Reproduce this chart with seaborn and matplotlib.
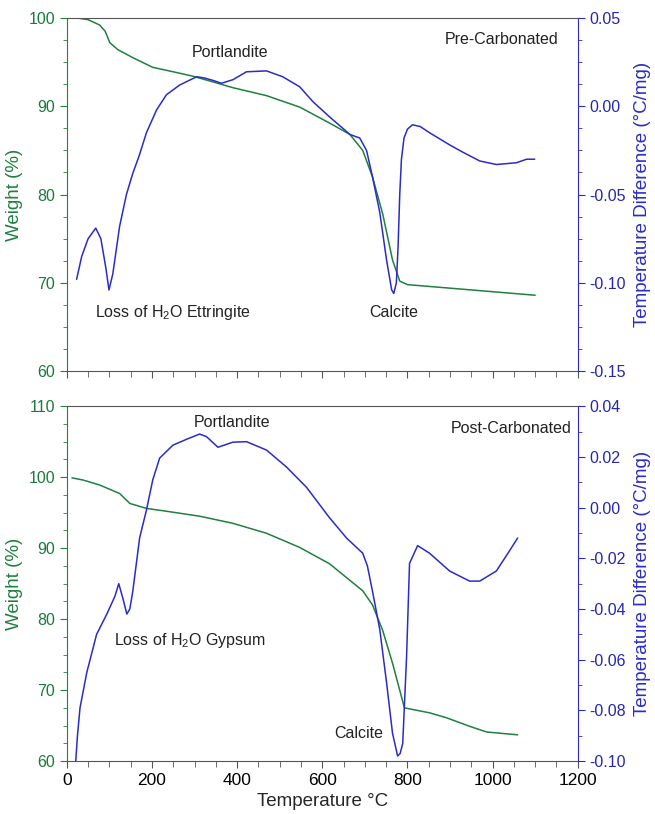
import matplotlib
matplotlib.use("Agg")
import matplotlib.pyplot as plt
import seaborn as sns
from matplotlib.ticker import MultipleLocator, FuncFormatter

# TGA / DTA readings, pre-carbonated sample
pre_temp_w = [23, 50, 77, 90, 101, 120, 155, 202, 250, 296, 340, 390, 469, 547,
              617, 665, 695, 718, 742, 765, 782, 800, 850, 950, 1050, 1100]
pre_weight = [100.0, 99.8, 99.2, 98.5, 97.2, 96.4, 95.5, 94.4, 93.9, 93.4, 92.8, 92.1, 91.2, 89.9,
              88.1, 86.8, 85.0, 82.0, 77.8, 72.6, 70.2, 69.8, 69.6, 69.2, 68.8, 68.6]
pre_temp_d = [23, 35, 50, 68, 80, 92, 99, 108, 124, 140, 155, 170, 187, 211, 234, 265,
              305, 323, 345, 363, 390, 422, 469, 507, 547, 578, 617, 665, 688, 704,
              718, 735, 751, 763, 768, 774, 778, 782, 786, 792, 800, 812, 830, 852,
              900, 930, 970, 1009, 1056, 1080, 1099]
pre_dta = [-0.098, -0.085, -0.075, -0.069, -0.075, -0.092, -0.104, -0.095, -0.068, -0.050,
           -0.038, -0.028, -0.015, -0.002, 0.0065, 0.012, 0.0167, 0.016, 0.0145, 0.013,
           0.015, 0.0195, 0.020, 0.0167, 0.011, 0.0026, -0.006, -0.016, -0.018, -0.025,
           -0.040, -0.060, -0.087, -0.104, -0.106, -0.100, -0.080, -0.050, -0.030, -0.018,
           -0.013, -0.0105, -0.0115, -0.015, -0.022, -0.026, -0.031, -0.033, -0.032,
           -0.030, -0.030]

# post-carbonated sample
post_temp_w = [12, 38, 77, 124, 148, 187, 234, 312, 390, 469, 547, 617, 695, 718, 742,
               765, 793, 852, 892, 946, 986, 1059]
post_weight = [99.9, 99.6, 98.9, 97.7, 96.3, 95.6, 95.2, 94.5, 93.5, 92.1, 90.1, 87.8,
               84.0, 82.0, 78.4, 73.8, 67.5, 66.8, 66.1, 64.9, 64.1, 63.7]
post_temp_d = [21, 25, 31, 47, 70, 94, 113, 122, 132, 141, 148, 155, 171, 187, 202, 218,
               249, 282, 312, 328, 355, 390, 422, 469, 516, 563, 617, 657, 695, 706, 718,
               735, 751, 765, 777, 783, 789, 798, 805, 824, 852, 899, 946, 970, 1009,
               1040, 1059]
post_dta = [-0.100, -0.090, -0.079, -0.065, -0.050, -0.042, -0.035, -0.030, -0.036, -0.042,
            -0.040, -0.033, -0.012, -0.001, 0.011, 0.0195, 0.0246, 0.027, 0.029, 0.028,
            0.0238, 0.0258, 0.026, 0.0227, 0.016, 0.008, -0.004, -0.012, -0.018, -0.023,
            -0.033, -0.048, -0.069, -0.089, -0.098, -0.097, -0.093, -0.059, -0.022,
            -0.015, -0.018, -0.025, -0.029, -0.029, -0.025, -0.017, -0.012]

GREEN = "#1f8040"
GREEN_TXT = "#1a7a3c"
BLUE = "#2b2bc8"
BLUE_TXT = "#2626b0"
GRAY = "#555555"

sns.set_style("ticks")
plt.rcParams["font.family"] = ["Liberation Sans", "DejaVu Sans"]
plt.rcParams["mathtext.fontset"] = "custom"
plt.rcParams["mathtext.rm"] = "Liberation Sans"
plt.rcParams["mathtext.it"] = "Liberation Sans:italic"

fig = plt.figure(figsize=(6.55, 8.14), dpi=100)
ax1 = fig.add_axes([0.102, 0.544, 0.780, 0.434])
ax2 = fig.add_axes([0.102, 0.065, 0.780, 0.436])


def dta_fmt(v, pos):
    if abs(v) < 1e-9:
        v = 0.0
    return "%.2f" % v


def style_panel(ax, tw, wlim, wmajor, dlim, dmajor, dminor, show_x):
    ax.set_xlim(0, 1200)
    ax.set_ylim(*wlim)
    tw.set_ylim(*dlim)
    ax.xaxis.set_major_locator(MultipleLocator(200))
    ax.xaxis.set_minor_locator(MultipleLocator(50))
    ax.yaxis.set_major_locator(MultipleLocator(wmajor))
    ax.yaxis.set_minor_locator(MultipleLocator(2.5))
    tw.yaxis.set_major_locator(MultipleLocator(dmajor))
    tw.yaxis.set_minor_locator(MultipleLocator(dminor))
    for a in (ax, tw):
        for s in a.spines.values():
            s.set_visible(False)
    for s in ("top", "bottom"):
        ax.spines[s].set_visible(True)
        ax.spines[s].set_color(GRAY)
    ax.spines["left"].set_visible(True)
    ax.spines["left"].set_color(GREEN)
    tw.spines["right"].set_visible(True)
    tw.spines["right"].set_color(BLUE)
    ax.tick_params(axis="x", which="both", direction="out", colors=GRAY,
                   labelcolor="black", labelsize=12.5, labelbottom=show_x, top=False)
    ax.tick_params(axis="x", which="major", length=5)
    ax.tick_params(axis="x", which="minor", length=4)
    ax.tick_params(axis="y", which="both", direction="out", colors=GREEN,
                   labelcolor=GREEN_TXT, labelsize=11.5)
    ax.tick_params(axis="y", which="major", length=5)
    ax.tick_params(axis="y", which="minor", length=3)
    tw.tick_params(axis="y", which="both", direction="out", colors=BLUE,
                   labelcolor=BLUE_TXT, labelsize=11.5)
    tw.tick_params(axis="y", which="major", length=5)
    tw.tick_params(axis="y", which="minor", length=3)
    tw.yaxis.set_major_formatter(FuncFormatter(dta_fmt))
    ax.set_ylabel("Weight (%)", color=GREEN, fontsize=13.5, labelpad=4)
    tw.set_ylabel("Temperature Difference (°C/mg)", color=BLUE, fontsize=13.5, labelpad=6)
    ax.set_xlabel("")
    ax.grid(False)
    tw.grid(False)


# top panel
tw1 = ax1.twinx()
sns.lineplot(x=pre_temp_w, y=pre_weight, ax=ax1, color=GREEN, linewidth=1.1)
sns.lineplot(x=pre_temp_d, y=pre_dta, ax=tw1, color=BLUE, linewidth=1.1)
style_panel(ax1, tw1, (60, 100), 10, (-0.15, 0.05), 0.05, 0.0125, False)
ax1.text(383, 96.1, "Portlandite", ha="center", va="center", fontsize=11.5, color="#222222")
ax1.text(1021, 97.5, "Pre-Carbonated", ha="center", va="center", fontsize=11.5, color="#222222")
ax1.text(249, 66.7, "Loss of H$_2$O Ettringite", ha="center", va="center", fontsize=11.5,
         color="#222222")
ax1.text(768, 66.7, "Calcite", ha="center", va="center", fontsize=11.5, color="#222222")

# bottom panel
tw2 = ax2.twinx()
sns.lineplot(x=post_temp_w, y=post_weight, ax=ax2, color=GREEN, linewidth=1.1)
sns.lineplot(x=post_temp_d, y=post_dta, ax=tw2, color=BLUE, linewidth=1.1)
style_panel(ax2, tw2, (60, 110), 10, (-0.10, 0.04), 0.02, 0.01, True)
ax2.set_xlabel("Temperature °C", fontsize=13.5, labelpad=4)
ax2.text(388, 107.7, "Portlandite", ha="center", va="center", fontsize=11.5, color="#222222")
ax2.text(1043, 106.8, "Post-Carbonated", ha="center", va="center", fontsize=11.5, color="#222222")
ax2.text(289, 77.0, "Loss of H$_2$O Gypsum", ha="center", va="center", fontsize=11.5,
         color="#222222")
ax2.text(686, 63.9, "Calcite", ha="center", va="center", fontsize=11.5, color="#222222")

fig.savefig("out.png", dpi=100)
